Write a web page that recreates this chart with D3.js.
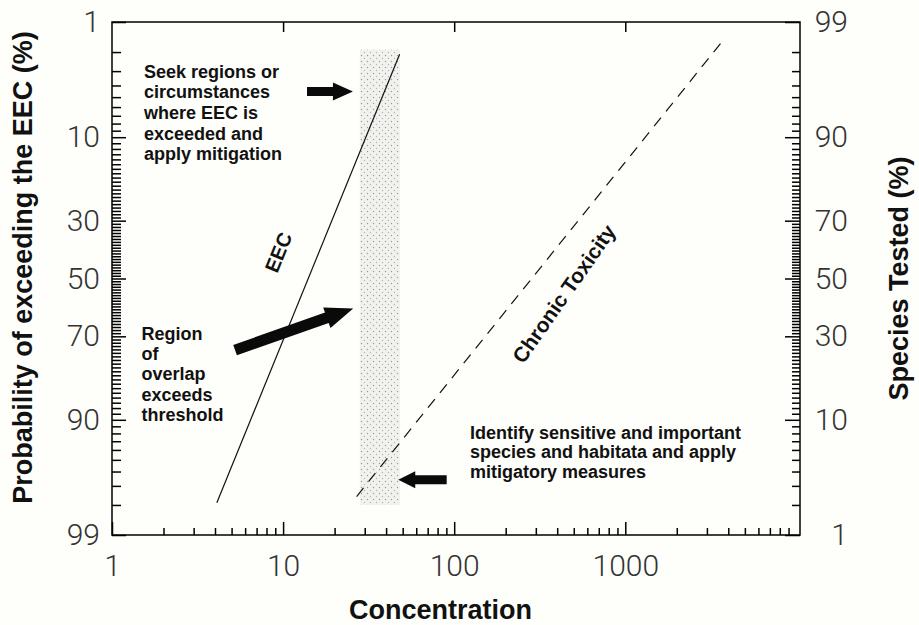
<!DOCTYPE html>
<html>
<head>
<meta charset="utf-8">
<script src="https://cdn.jsdelivr.net/npm/d3@7"></script>
<style>
  body { margin: 0; background: #fefefa; }
  svg { display: block; }
  .tick text { font-family: Roboto, "Liberation Sans", sans-serif; font-weight: 300; fill: #333; }
  .note { font-family: "Liberation Sans", Arial, sans-serif; font-weight: bold; font-size: 18px; fill: #111; }
  .title { font-family: "Liberation Sans", Arial, sans-serif; font-weight: bold; font-size: 27px; fill: #111; }
</style>
</head>
<body>
<svg id="chart"></svg>
<script>
// axis ticks
var concLabels = [1, 10, 100, 1000];
var concMajor = [10, 100, 1000];
var probMajor = [1, 10, 30, 50, 70, 90, 99];
var speciesMajor = [99, 90, 70, 50, 30, 10, 1];

// EEC distribution (prob. of exceeding, left axis)
var eecConc = [4.1, 48];
var eecExceed = [97.9, 2.1];
// chronic toxicity distribution (species tested, right axis)
var chronicConc = [26.9, 3660];
var chronicSpecies = [2.4, 98.4];
// overlap band
var bandConc = [28.1, 48.2];
var bandProb = [1.9, 98];

// arrows: [tail, tip] as [concentration, exceed prob]
var arrowSeek = [[13.8, 4.5], [25.6, 4.5]];
var arrowRegion = [[5.24, 74.2], [25.7, 60.7]];
var arrowIdentify = [[90.4, 96.6], [47.1, 96.6]];

var seekLines = ["Seek regions or", "circumstances", "where EEC is", "exceeded and", "apply mitigation"];
var regionLines = ["Region", "of", "overlap", "exceeds", "threshold"];
var identifyLines = ["Identify sensitive and important", "species and habitata and apply", "mitigatory measures"];

var W = 919, H = 625;
var margin = { left: 112, right: 800, top: 22, bottom: 535 };

function probit(p) {
	var a = [-3.969683028665376e+01, 2.209460984245205e+02, -2.759285104469687e+02, 1.383577518672690e+02, -3.066479806614716e+01, 2.506628277459239e+00];
	var b = [-5.447609879822406e+01, 1.615858368580409e+02, -1.556989798598866e+02, 6.680131188771972e+01, -1.328068155288572e+01];
	var c = [-7.784894002430293e-03, -3.223964580411365e-01, -2.400758277161838e+00, -2.549671669432694e+00, 4.374664141464968e+00, 2.938163982698783e+00];
	var d = [7.784695709041462e-03, 3.224671290700398e-01, 2.445134137142996e+00, 3.754408661907416e+00];
	var pl = 0.02425, q, r;
	if (p < pl) {
		q = Math.sqrt(-2 * Math.log(p));
		return (((((c[0]*q+c[1])*q+c[2])*q+c[3])*q+c[4])*q+c[5]) / ((((d[0]*q+d[1])*q+d[2])*q+d[3])*q+1);
	}
	if (p > 1 - pl) {
		q = Math.sqrt(-2 * Math.log(1 - p));
		return -(((((c[0]*q+c[1])*q+c[2])*q+c[3])*q+c[4])*q+c[5]) / ((((d[0]*q+d[1])*q+d[2])*q+d[3])*q+1);
	}
	q = p - 0.5; r = q * q;
	return (((((a[0]*r+a[1])*r+a[2])*r+a[3])*r+a[4])*r+a[5])*q / (((((b[0]*r+b[1])*r+b[2])*r+b[3])*r+b[4])*r+1);
}

var svg = d3.select("#chart").attr("width", W).attr("height", H);

var x = d3.scaleLog().domain([1, 10500]).range([margin.left, margin.right]);
var yz = d3.scaleLinear().domain([probit(0.01), probit(0.99)]).range([margin.top, margin.bottom]);
function yL(p) { return yz(probit(p / 100)); }
function yR(s) { return yz(probit(1 - s / 100)); }

// stipple pattern for the overlap band
var pat = svg.append("defs").append("pattern")
	.attr("id", "stipple").attr("patternUnits", "userSpaceOnUse")
	.attr("width", 6).attr("height", 6);
pat.append("rect").attr("width", 6).attr("height", 6).attr("fill", "#f1f1ee");
pat.append("circle").attr("cx", 1.5).attr("cy", 1.5).attr("r", 0.7).attr("fill", "#9a9a9a");
pat.append("circle").attr("cx", 4.5).attr("cy", 4.5).attr("r", 0.7).attr("fill", "#b5b5b5");

svg.append("rect")
	.attr("x", x(bandConc[0])).attr("y", yL(bandProb[0]))
	.attr("width", x(bandConc[1]) - x(bandConc[0]))
	.attr("height", yL(bandProb[1]) - yL(bandProb[0]))
	.attr("fill", "url(#stipple)");

// frame
svg.append("rect")
	.attr("x", margin.left).attr("y", margin.top)
	.attr("width", margin.right - margin.left).attr("height", margin.bottom - margin.top)
	.attr("fill", "none").attr("stroke", "#111").attr("stroke-width", 1.6);

// axes (ticks point inward)
var minorConc = [];
[1, 10, 100, 1000].forEach(function(k) { for (var m = 2; m <= 9; m++) minorConc.push(m * k); });
var probMinor = d3.range(2, 99).filter(function(p) { return probMajor.indexOf(p) < 0; });

function styleAxis(g) {
	g.select(".domain").remove();
	g.selectAll(".tick line").attr("stroke", "#000").attr("stroke-width", 1.5);
}

svg.append("g").attr("transform", "translate(0," + margin.bottom + ")")
	.call(d3.axisBottom(x).tickValues(minorConc).tickSize(-7).tickFormat(""))
	.call(styleAxis);
svg.append("g").attr("transform", "translate(0," + margin.bottom + ")")
	.call(d3.axisBottom(x).tickValues(concLabels).tickSize(-13).tickPadding(20).tickFormat(d3.format("d")))
	.call(styleAxis)
	.selectAll("text").style("font-size", "30px");
svg.append("g").attr("transform", "translate(0," + margin.top + ")")
	.call(d3.axisTop(x).tickValues(concMajor).tickSize(-10).tickFormat(""))
	.call(styleAxis);

svg.append("g").attr("transform", "translate(" + margin.left + ",0)")
	.call(d3.axisLeft(yz).tickValues(probMinor.map(function(p) { return probit(p / 100); })).tickSize(-9).tickFormat(""))
	.call(styleAxis);
svg.append("g").attr("transform", "translate(" + margin.left + ",0)")
	.call(d3.axisLeft(yz).tickValues(probMajor.map(function(p) { return probit(p / 100); }))
		.tickSize(-14).tickPadding(12).tickFormat(function(d, i) { return probMajor[i]; }))
	.call(styleAxis)
	.selectAll("text").style("font-size", "30px");

svg.append("g").attr("transform", "translate(" + margin.right + ",0)")
	.call(d3.axisRight(yz).tickValues(probMinor.map(function(p) { return probit(p / 100); })).tickSize(-8).tickFormat(""))
	.call(styleAxis);
svg.append("g").attr("transform", "translate(" + margin.right + ",0)")
	.call(d3.axisRight(yz).tickValues(speciesMajor.map(function(s) { return probit(1 - s / 100); }))
		.tickSize(-15).tickFormat(function(d, i) { return speciesMajor[i]; }))
	.call(styleAxis)
	.selectAll("text").style("font-size", "30px").attr("text-anchor", "end").attr("x", 48);

// distribution lines
svg.append("line")
	.attr("x1", x(eecConc[0])).attr("y1", yL(eecExceed[0]))
	.attr("x2", x(eecConc[1])).attr("y2", yL(eecExceed[1]))
	.attr("stroke", "#111").attr("stroke-width", 1.2);
svg.append("line")
	.attr("x1", x(chronicConc[0])).attr("y1", yR(chronicSpecies[0]))
	.attr("x2", x(chronicConc[1])).attr("y2", yR(chronicSpecies[1]))
	.attr("stroke", "#111").attr("stroke-width", 1.2).attr("stroke-dasharray", "11,8");

// arrows
function arrow(a, shaft, headW, headL) {
	var x0 = x(a[0][0]), y0 = yL(a[0][1]), x1 = x(a[1][0]), y1 = yL(a[1][1]);
	var len = Math.hypot(x1 - x0, y1 - y0), ux = (x1 - x0) / len, uy = (y1 - y0) / len;
	var nx = -uy, ny = ux;
	var bx = x1 - ux * headL, by = y1 - uy * headL;
	var pts = [
		[x0 + nx * shaft, y0 + ny * shaft], [bx + nx * shaft, by + ny * shaft],
		[bx + nx * headW, by + ny * headW], [x1, y1],
		[bx - nx * headW, by - ny * headW], [bx - nx * shaft, by - ny * shaft],
		[x0 - nx * shaft, y0 - ny * shaft]
	];
	svg.append("path").attr("d", "M" + pts.join("L") + "Z").attr("fill", "#0a0a0a");
}
arrow(arrowSeek, 4.5, 9, 20);
arrow(arrowRegion, 5.5, 11, 28);
arrow(arrowIdentify, 4.5, 8.5, 17);

// notes
function note(lines, x0, y0, dy) {
	var t = svg.append("text").attr("class", "note");
	lines.forEach(function(s, i) {
		t.append("tspan").attr("x", x0).attr("y", y0 + i * dy).text(s);
	});
}
note(seekLines, 144, 77.5, 20.7);
note(regionLines, 141.5, 339.5, 20.4);
note(identifyLines, 470, 438.5, 19.6);

svg.append("text").attr("class", "note").style("font-size", "20px")
	.attr("text-anchor", "middle")
	.attr("transform", "translate(285,255) rotate(-68)")
	.text("EEC");
svg.append("text").attr("class", "note").style("font-size", "21px")
	.attr("text-anchor", "middle")
	.attr("transform", "translate(570,298) rotate(-55)")
	.text("Chronic Toxicity");

// titles
svg.append("text").attr("class", "title").attr("text-anchor", "middle")
	.attr("x", 440.5).attr("y", 619).text("Concentration");
svg.append("text").attr("class", "title").attr("text-anchor", "middle")
	.attr("transform", "translate(32,267.5) rotate(-90)")
	.text("Probability of exceeding the EEC (%)");
svg.append("text").attr("class", "title").attr("text-anchor", "middle")
	.attr("transform", "translate(908,278.5) rotate(-90)")
	.text("Species Tested (%)");
</script>
</body>
</html>
